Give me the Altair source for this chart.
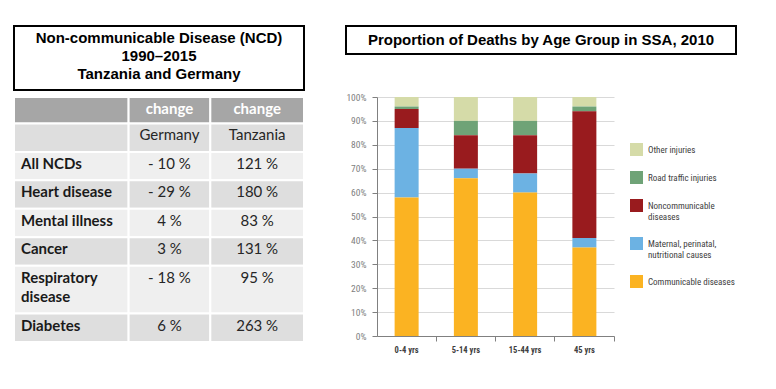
import altair as alt
import pandas as pd

# ---------------- data: left table ----------------
table_title = ["Non-communicable Disease (NCD)", "1990–2015", "Tanzania and Germany"]
header_labels = ["", "change", "change"]
country_labels = ["", "Germany", "Tanzania"]
diseases = ["All NCDs", "Heart disease", "Mental illness", "Cancer",
            "Respiratory disease", "Diabetes"]
germany_change = ["- 10 %", "- 29 %", "4 %", "3 %", "- 18 %", "6 %"]
tanzania_change = ["121 %", "180 %", "83 %", "131 %", "95 %", "263 %"]

# ---------------- data: right bar chart ----------------
chart_title = "Proportion of Deaths by Age Group in SSA, 2010"
age_groups = ["0-4 yrs", "5-14 yrs", "15-44 yrs", "45 yrs"]
causes = ["Other injuries", "Road traffic injuries", "Noncommunicable diseases",
          "Maternal,  perinatal, nutritional causes", "Communicable diseases"]
other_injuries = [4, 10, 10, 4]
road_traffic = [1, 6, 6, 2]
noncommunicable = [8, 14, 16, 53]
maternal = [29, 4, 8, 4]
communicable = [58, 66, 60, 37]

# ---------------- styles / layout ----------------
cause_colors = ["#D5DBA8", "#6FA377", "#991B1E", "#6CB2E3", "#FBB322"]
shade_colors = ["#A6A6A6", "#DEDEDE", "#EFEFEF"]
TITLE_FONT = "Liberation Sans, Arial, sans-serif"
TABLE_FONT = "Lato, Open Sans, sans-serif"
COND_FONT = "Liberation Sans Narrow, Roboto Condensed, DejaVu Sans Condensed, Arial Narrow, sans-serif"
COL_W = [115, 82, 94]
HEADER_H, ROW_H, EXTRA_LINE_H = 26, 28, 19
WRAP = 15
TITLE_LH = 18


def wrap(s):
    if len(s) <= WRAP:
        return s
    i = s.rfind(" ", 0, WRAP + 1)
    return s[:i] + "\n" + s[i + 1:]


# ---------------- build table cells ----------------
x_edges = [0]
for w in COL_W:
    x_edges.append(x_edges[-1] + w)

table_rows = [("header", header_labels), ("country", country_labels)]
for d, g, t in zip(diseases, germany_change, tanzania_change):
    table_rows.append(("data", [d, g, t]))

recs = []
y = 0
for r, (kind, cells) in enumerate(table_rows):
    texts = [wrap(c) if j == 0 else c for j, c in enumerate(cells)]
    n_lines = max(t.count("\n") + 1 for t in texts)
    h = (HEADER_H if kind == "header" else ROW_H) + EXTRA_LINE_H * (n_lines - 1)
    shade = "header" if kind == "header" else ("dark" if (r - 1) % 2 == 0 else "light")
    for j, t in enumerate(texts):
        role = "header" if kind == "header" else ("label" if j == 0 else "value")
        recs.append(dict(x0=x_edges[j], x1=x_edges[j + 1],
                         xc=(x_edges[j] + x_edges[j + 1]) / 2,
                         y0=y, y1=y + h, text=t, shade=shade, role=role))
    y += h
total_h = y
cells_df = pd.DataFrame(recs)

xs = alt.Scale(domain=[0, x_edges[-1]], nice=False, zero=True)
ys = alt.Scale(domain=[0, total_h], nice=False, reverse=True)

tbase = alt.Chart(cells_df)
rects = tbase.mark_rect(stroke="white", strokeWidth=2).encode(
    x=alt.X("x0:Q", scale=xs, axis=None),
    x2="x1:Q",
    y=alt.Y("y0:Q", scale=ys, axis=None),
    y2="y1:Q",
    color=alt.Color("shade:N",
                    scale=alt.Scale(domain=["header", "dark", "light"], range=shade_colors),
                    legend=None),
)
txt_common = dict(baseline="alphabetic", dy=17, fontSize=15, font=TABLE_FONT,
                  lineBreak="\n", lineHeight=19)
label_txt = tbase.transform_filter("datum.role == 'label'").mark_text(
    align="left", dx=7, fontWeight="bold", color="#1A1A1A", **txt_common
).encode(x=alt.X("x0:Q", scale=xs), y=alt.Y("y0:Q", scale=ys), text="text:N")
value_txt = tbase.transform_filter("datum.role == 'value'").mark_text(
    align="center", color="#262626", **txt_common
).encode(x=alt.X("xc:Q", scale=xs), y=alt.Y("y0:Q", scale=ys), text="text:N")
header_txt = tbase.transform_filter("datum.role == 'header'").mark_text(
    align="center", fontWeight="bold", color="white", **txt_common
).encode(x=alt.X("xc:Q", scale=xs), y=alt.Y("y0:Q", scale=ys), text="text:N")

table = alt.layer(rects, label_txt, value_txt, header_txt).properties(width=290, height=245)

left_title = alt.Chart(alt.Data(values=[{}])).mark_text(
    text=table_title, font=TITLE_FONT, fontSize=15, fontWeight="bold",
    lineHeight=TITLE_LH, baseline="middle", color="black",
    dy=-TITLE_LH * (len(table_title) - 1) / 2 - 2,
).properties(width=290, height=64,
             view=alt.ViewBackground(stroke="black", strokeWidth=2, fill="white"))

# ---------------- bar chart ----------------
series = [other_injuries, road_traffic, noncommunicable, maternal, communicable]
brecs = []
for k, (cause, vals) in enumerate(zip(causes, series)):
    for age, v in zip(age_groups, vals):
        brecs.append(dict(age=age, cause=cause, pct=v, stack_rank=len(causes) - 1 - k))
bar_df = pd.DataFrame(brecs)

wrap_expr = ("length(datum.label) > 22 ? "
             "[substring(datum.label, 0, lastindexof(substring(datum.label, 0, 23), ' ')), "
             "substring(datum.label, lastindexof(substring(datum.label, 0, 23), ' ') + 1)] "
             ": datum.label")

bars = alt.Chart(bar_df).mark_bar(width=24).encode(
    x=alt.X("age:N", sort=age_groups,
            scale=alt.Scale(paddingInner=0, paddingOuter=0),
            axis=alt.Axis(title=None, labelAngle=0, bandPosition=1, ticks=True, tickSize=5,
                          labelFont=COND_FONT, labelFontWeight="bold", labelColor="#404040",
                          labelFontSize=8.5, labelPadding=4, domainColor="#808080",
                          tickColor="#808080", grid=False)),
    y=alt.Y("pct:Q", stack="zero", scale=alt.Scale(domain=[0, 100], nice=False),
            axis=alt.Axis(title=None, values=list(range(0, 101, 10)),
                          labelExpr="datum.value + '%'", grid=True, gridColor="#D9D9D9",
                          tickSize=5, tickColor="#808080", domainColor="#808080",
                          labelFont=COND_FONT, labelFontSize=9.5, labelColor="#808080",
                          labelPadding=6)),
    color=alt.Color("cause:N", scale=alt.Scale(domain=causes, range=cause_colors),
                    legend=alt.Legend(title=None, orient="none", legendX=253, legendY=46,
                                      symbolType="square", symbolSize=169,
                                      symbolStrokeWidth=0, labelFont=COND_FONT,
                                      labelFontSize=9, labelColor="#404040",
                                      labelOffset=5, rowPadding=15, labelLimit=200,
                                      labelExpr=wrap_expr)),
    order=alt.Order("stack_rank:Q"),
).properties(width=237, height=239)

right_title = alt.Chart(alt.Data(values=[{}])).mark_text(
    text=chart_title, font=TITLE_FONT, fontSize=15, fontWeight="bold",
    baseline="middle", color="black"
).properties(width=390, height=28,
             view=alt.ViewBackground(stroke="black", strokeWidth=2, fill="white"))

top_row = alt.hconcat(left_title, right_title, spacing=40)
bottom_row = alt.hconcat(table, bars, spacing=40).resolve_scale(color="independent")

chart = alt.vconcat(top_row, bottom_row, spacing=1).properties(
    padding={"left": 5, "top": 17, "right": 5, "bottom": 5},
    background="white",
).configure_view(stroke=None)

chart.save("out.html", embed_options={"renderer": "svg", "actions": False})
